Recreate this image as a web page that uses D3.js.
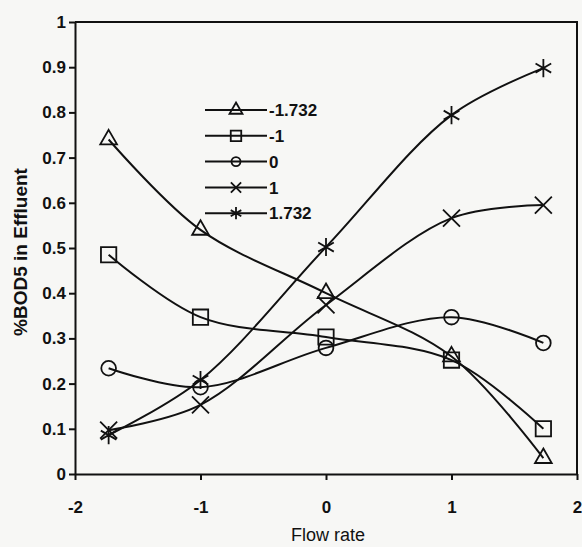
<!DOCTYPE html>
<html>
<head>
<meta charset="utf-8">
<script src="https://cdn.jsdelivr.net/npm/d3@7"></script>
<style>
  body { margin: 0; background: #f7f7f5; }
  svg { display: block; font-family: "Liberation Sans", Arial, sans-serif; }
</style>
</head>
<body>
<div id="chart"></div>
<script>
// DATA ####################################################
const flowRate = [-1.732, -1, 0, 1, 1.732];
const seriesNames = ["-1.732", "-1", "0", "1", "1.732"];
const bodM1732 = [0.74, 0.54, 0.40, 0.26, 0.035];
const bodM1 = [0.485, 0.347, 0.303, 0.252, 0.10];
const bod0 = [0.234, 0.192, 0.279, 0.347, 0.29];
const bodP1 = [0.097, 0.153, 0.374, 0.566, 0.595];
const bodP1732 = [0.086, 0.208, 0.502, 0.794, 0.898];
const xTicks = [-2, -1, 0, 1, 2];
const yTicks = [0, 0.1, 0.2, 0.3, 0.4, 0.5, 0.6, 0.7, 0.8, 0.9, 1];

const allSeries = [bodM1732, bodM1, bod0, bodP1, bodP1732];

// CONSTANTS ###############################################
const width = 582;
const height = 547;
const plotLeft = 75, plotRight = 577, plotTop = 22, plotBottom = 474;

// symbol per series: big in plot, small in legend
const symbolTypes = [d3.symbolTriangle2, d3.symbolSquare2, d3.symbolCircle, d3.symbolTimes, d3.symbolAsterisk];
const plotSizes = [200, 300, 170, 190, 230];
const legendSizes = [120, 140, 64, 70, 105];

// SCALES ==================================================
const xScale = d3.scaleLinear().domain([-2, 2]).range([plotLeft, plotRight]);
const yScale = d3.scaleLinear().domain([0, 1]).range([plotBottom, plotTop]);

const svg = d3.select("#chart")
  .append("svg")
  .attr("width", width)
  .attr("height", height);

// plain hyphen for negatives, like the original
const fmt = d => String(+d.toFixed(1));

// AXES ----------------------------------------------------
const yAxis = svg.append("g")
  .attr("transform", `translate(${plotLeft},0)`)
  .call(d3.axisLeft(yScale).tickValues(yTicks).tickSize(6).tickSizeOuter(0).tickFormat(fmt));

const xAxis = svg.append("g")
  .attr("transform", `translate(0,${plotBottom})`)
  .call(d3.axisBottom(xScale).tickValues(xTicks).tickSize(6).tickSizeOuter(0).tickFormat(fmt));

[xAxis, yAxis].forEach(g => {
  g.selectAll(".domain").attr("stroke", "#111").attr("stroke-width", 2);
  g.selectAll(".tick line").attr("stroke", "#111").attr("stroke-width", 2);
  g.selectAll(".tick text")
    .attr("fill", "#111")
    .style("font-size", "17px")
    .style("font-weight", "bold");
});
xAxis.selectAll(".tick text").attr("y", 27);

// frame top and right
svg.append("path")
  .attr("d", `M${plotLeft},${plotTop}H${plotRight}V${plotBottom}`)
  .attr("fill", "none")
  .attr("stroke", "#111")
  .attr("stroke-width", 2);

// AXIS TITLES ---------------------------------------------
svg.append("text")
  .attr("text-anchor", "middle")
  .attr("transform", "translate(27,252) rotate(-90)")
  .style("font-size", "19px")
  .style("font-weight", "bold")
  .style("fill", "#111")
  .text("%BOD5 in Effluent");

svg.append("text")
  .attr("text-anchor", "middle")
  .attr("x", 328)
  .attr("y", 541)
  .style("font-size", "18px")
  .style("fill", "#111")
  .text("Flow rate");

// LINES ===================================================
const line = d3.line()
  .x((d, i) => xScale(flowRate[i]))
  .y(d => yScale(d))
  .curve(d3.curveCatmullRom.alpha(0.5));

allSeries.forEach((vals, s) => {
  svg.append("path")
    .attr("d", line(vals))
    .attr("fill", "none")
    .attr("stroke", "#111")
    .attr("stroke-width", 2);

  svg.selectAll(`path.mark${s}`)
    .data(vals)
    .join("path")
    .attr("class", `mark${s}`)
    .attr("d", d3.symbol().type(symbolTypes[s]).size(plotSizes[s]))
    .attr("transform", (d, i) => `translate(${xScale(flowRate[i])},${yScale(d)})`)
    .attr("fill", "none")
    .attr("stroke", "#111")
    .attr("stroke-width", 1.8);
});

// LEGEND ==================================================
const legend = svg.append("g").attr("transform", "translate(205,110)");
seriesNames.forEach((name, s) => {
  const g = legend.append("g").attr("transform", `translate(0,${s * 25.8})`);
  g.append("line")
    .attr("x1", 0).attr("x2", 62)
    .attr("stroke", "#111").attr("stroke-width", 2);
  g.append("path")
    .attr("d", d3.symbol().type(symbolTypes[s]).size(legendSizes[s]))
    .attr("transform", "translate(31,0)")
    .attr("fill", "none")
    .attr("stroke", "#111")
    .attr("stroke-width", 1.8);
  g.append("text")
    .attr("x", 64)
    .attr("dy", "0.36em")
    .style("font-size", "17px")
    .style("font-weight", "bold")
    .style("fill", "#111")
    .text(name);
});
</script>
</body>
</html>
